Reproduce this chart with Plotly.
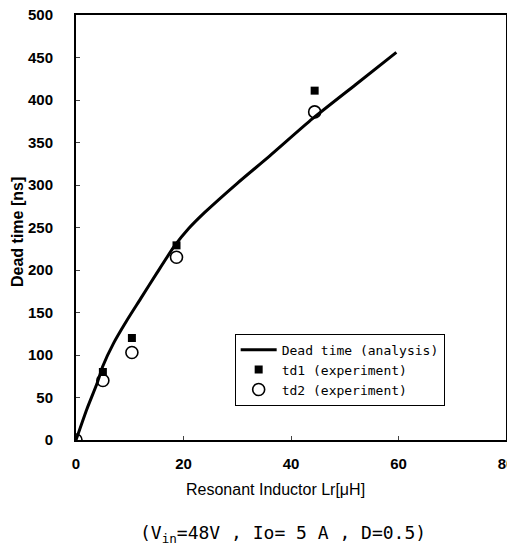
import plotly.graph_objects as go

# Analysis curve
lr_curve = [0, 2, 4, 5, 7, 9.4, 12, 15, 18.3, 21, 24, 30, 36, 44, 52, 59.6]
td_curve = [0, 36, 68, 87, 114, 140, 166, 196, 228, 249, 268, 302, 334, 378, 418, 456]

# Experiment td1 (filled squares)
lr_td1 = [5, 10.4, 18.7, 44.4]
td1 = [80, 120, 229, 411]

# Experiment td2 (open circles)
lr_td2 = [0, 5, 10.4, 18.7, 44.4]
td2 = [0, 70, 103, 215, 386]

x_ticks = [0, 20, 40, 60, 80]
y_ticks = [0, 50, 100, 150, 200, 250, 300, 350, 400, 450, 500]

font_main = "Liberation Sans, Arial, sans-serif"
font_mono = "DejaVu Sans Mono, monospace"

# the page shows the figure with an 8 px body margin
OFF = 8
W, H = 515 - OFF, 554 - 2 * OFF
pl, pr, pt, pb = 76 - OFF, 506 - OFF, 15 - OFF, 440 - OFF

fig = go.Figure()
fig.add_trace(go.Scatter(x=lr_curve, y=td_curve, mode="lines",
                         line=dict(color="black", width=3, shape="spline", smoothing=0.6),
                         name="Dead time (analysis)"))
fig.add_trace(go.Scatter(x=lr_td1, y=td1, mode="markers",
                         marker=dict(symbol="square", size=8, color="black"),
                         name="td1 (experiment)"))
fig.add_trace(go.Scatter(x=lr_td2, y=td2, mode="markers",
                         marker=dict(symbol="circle-open", size=12, color="black",
                                     line=dict(width=1.6, color="black")),
                         name="td2 (experiment)"))

fig.update_layout(
    width=W, height=H,
    margin=dict(l=pl, r=W - pr, t=pt, b=H - pb, pad=0),
    paper_bgcolor="white", plot_bgcolor="white",
    showlegend=True,
    legend=dict(x=0.369, y=0.25, xanchor="left", yanchor="top",
                bordercolor="black", borderwidth=1, bgcolor="white",
                font=dict(family=font_mono, size=13, color="black"),
                tracegroupgap=0, itemwidth=36),
    font=dict(family=font_main, color="black"),
)
fig.update_xaxes(range=[0, 80], tickvals=x_ticks, ticks="inside", ticklen=4,
                 showgrid=False, zeroline=False, showline=True, linecolor="black",
                 linewidth=2, mirror=True, automargin=False, ticklabelstandoff=9,
                 ticklabeloverflow="allow",
                 tickfont=dict(family=font_main, size=15, color="black", weight="bold"))
fig.update_yaxes(range=[0, 500], tickvals=y_ticks, ticks="inside", ticklen=4,
                 showgrid=False, zeroline=False, showline=True, linecolor="black",
                 linewidth=2, mirror=True, automargin=False, ticklabelstandoff=18,
                 ticklabeloverflow="allow",
                 tickfont=dict(family=font_main, size=15, color="black", weight="bold"))

# annotation positions in page pixels (centres)
fig.add_annotation(x=275, y=489, text="Resonant Inductor Lr[μH]",
                   font=dict(family=font_main, size=16, color="black"))
fig.add_annotation(x=18, y=232, text="Dead time [ns]", textangle=-90,
                   font=dict(family=font_main, size=16, color="black", weight="bold"))
fig.add_annotation(x=283, y=534,
                   text="(V<sub>in</sub>=48V , Io= 5 A , D=0.5)",
                   font=dict(family=font_mono, size=18, color="black"))

for ann in fig.layout.annotations:
    ann.xref = "paper"
    ann.yref = "paper"
    ann.showarrow = False
    ann.xanchor = "center"
    ann.yanchor = "middle"
    ann.x = (ann.x - OFF - pl) / (pr - pl)
    ann.y = (pb - (ann.y - OFF)) / (pb - pt)

fig.write_html("out.html")
